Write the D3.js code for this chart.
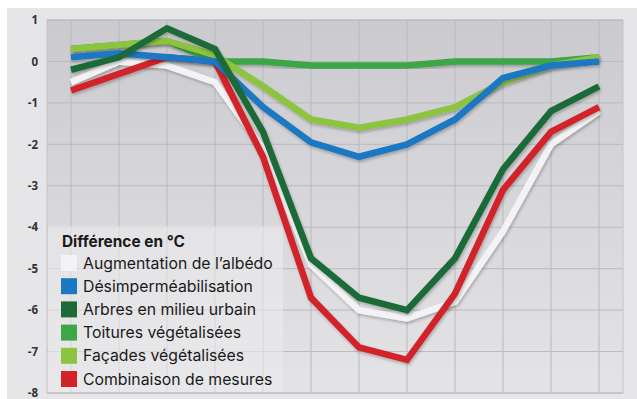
<!DOCTYPE html>
<html>
<head>
<meta charset="utf-8">
<script src="https://cdn.jsdelivr.net/npm/d3@7"></script>
<style>
  body { margin: 0; background: #fff; }
  svg { display: block; }
</style>
</head>
<body>
<svg width="637" height="399"></svg>
<script>
// x positions are just the 12 steps of the series, no labels readable
var steps = d3.range(12);
var yTicks = [1, 0, -1, -2, -3, -4, -5, -6, -7, -8];

var albedo      = [-0.5, 0.0, -0.1, -0.5, -2.1, -4.9, -6.0, -6.2, -5.8, -4.1, -2.0, -1.2];
var desimper    = [0.1, 0.2, 0.1, 0.0, -1.1, -1.95, -2.3, -2.0, -1.4, -0.4, -0.1, 0.0];
var arbres      = [-0.2, 0.1, 0.8, 0.3, -1.7, -4.75, -5.7, -6.0, -4.75, -2.6, -1.2, -0.6];
var toitures    = [0.3, 0.4, 0.5, 0.0, 0.0, -0.1, -0.1, -0.1, 0.0, 0.0, 0.0, 0.1];
var facades     = [0.3, 0.4, 0.5, 0.15, -0.6, -1.4, -1.6, -1.4, -1.1, -0.5, -0.1, 0.1];
var combinaison = [-0.7, -0.3, 0.1, 0.0, -2.3, -5.7, -6.9, -7.2, -5.6, -3.1, -1.7, -1.1];

var legendTitle = "Différence en °C";
var series = [
    {name: "Augmentation de l’albédo", values: albedo, color: "#f3f3f5"},
    {name: "Désimperméabilisation", values: desimper, color: "#1b78c2"},
    {name: "Arbres en milieu urbain", values: arbres, color: "#1d6a38"},
    {name: "Toitures végétalisées", values: toitures, color: "#3da647"},
    {name: "Façades végétalisées", values: facades, color: "#8cc43f"},
    {name: "Combinaison de mesures", values: combinaison, color: "#d2232a"}
];
// drawing order, back to front
var drawOrder = [0, 5, 3, 4, 1, 2];

var svg = d3.select("svg"),
    width = +svg.attr("width"),
    height = +svg.attr("height");

var plot = {left: 47, right: 623, top: 20, bottom: 393};

var defs = svg.append("defs");
var grad = defs.append("linearGradient")
    .attr("id", "bg")
    .attr("x1", 0).attr("y1", 0).attr("x2", 0).attr("y2", 1);
grad.append("stop").attr("offset", "0%").attr("stop-color", "#cbcbcf");
grad.append("stop").attr("offset", "100%").attr("stop-color", "#e4e4e7");

var shadow = defs.append("filter")
    .attr("id", "shadow")
    .attr("x", "-10%").attr("y", "-10%")
    .attr("width", "120%").attr("height", "120%");
shadow.append("feDropShadow")
    .attr("dx", 1).attr("dy", 2)
    .attr("stdDeviation", 1.5)
    .attr("flood-color", "#000")
    .attr("flood-opacity", 0.25);

// outer frame
svg.append("rect")
    .attr("x", 7).attr("y", 8)
    .attr("width", width - 7).attr("height", height - 8)
    .attr("fill", "#e6e6e8");

svg.append("rect")
    .attr("x", plot.left).attr("y", plot.top)
    .attr("width", plot.right - plot.left)
    .attr("height", plot.bottom - plot.top)
    .attr("fill", "url(#bg)")
    .attr("stroke", "#c4c4c8");

var x = d3.scalePoint()
    .domain(steps)
    .range([plot.left, plot.right])
    .padding(0.5);

var y = d3.scaleLinear()
    .domain([-8, 1])
    .range([plot.bottom, plot.top]);

// grid
svg.append("g")
    .selectAll("line")
    .data(steps)
    .enter()
        .append("line")
        .attr("x1", function(d) { return x(d); })
        .attr("x2", function(d) { return x(d); })
        .attr("y1", plot.top)
        .attr("y2", plot.bottom)
        .attr("stroke", "#b9b9be")
        .attr("stroke-width", 1);

svg.append("g")
    .selectAll("line")
    .data(yTicks)
    .enter()
        .append("line")
        .attr("x1", plot.left)
        .attr("x2", plot.right)
        .attr("y1", function(d) { return y(d); })
        .attr("y2", function(d) { return y(d); })
        .attr("stroke", "#b9b9be")
        .attr("stroke-width", 1);

// y labels
var yAxis = svg.append("g")
    .attr("transform", "translate(38,0)")
    .call(d3.axisLeft(y).tickValues(yTicks).tickSize(0).tickPadding(0)
        .tickFormat(function(d) { return d3.format("d")(d).replace("−", "-"); }));
yAxis.select(".domain").remove();
yAxis.selectAll("text")
    .attr("font-family", "'Open Sans', sans-serif")
    .attr("font-weight", "bold")
    .attr("font-size", 11.5)
    .attr("fill", "#333");

// lines
var line = d3.line()
    .x(function(d, i) { return x(steps[i]); })
    .y(function(d) { return y(d); });

svg.append("g")
    .attr("class", "lines")
    .selectAll("path")
    .data(drawOrder.map(function(i) { return series[i]; }))
    .enter()
        .append("path")
        .attr("d", function(d) { return line(d.values); })
        .attr("fill", "none")
        .attr("stroke", function(d) { return d.color; })
        .attr("stroke-width", 6.5)
        .attr("stroke-linejoin", "miter")
        .attr("filter", "url(#shadow)");

// legend
var legend = svg.append("g").attr("class", "legend");

legend.append("rect")
    .attr("x", plot.left + 1).attr("y", 226)
    .attr("width", 235).attr("height", plot.bottom - 227)
    .attr("fill", "#ebebed")
    .attr("opacity", 0.6);

legend.append("text")
    .attr("x", 62).attr("y", 242)
    .attr("dy", "0.35em")
    .attr("font-family", "Inter, sans-serif")
    .attr("font-weight", "bold")
    .attr("font-size", 15.4)
    .attr("fill", "#1a1a1a")
    .text(legendTitle);

var item = legend.selectAll(".item")
    .data(series)
    .enter()
        .append("g")
        .attr("class", "item")
        .attr("transform", function(d, i) { return "translate(61," + (263 + i * 23.2) + ")"; });

item.append("rect")
    .attr("x", 0).attr("y", -8)
    .attr("width", 16).attr("height", 16)
    .attr("fill", function(d) { return d.color; });

item.append("text")
    .attr("x", 22)
    .attr("dy", "0.35em")
    .attr("font-family", "Inter, sans-serif")
    .attr("font-size", 15.8)
    .attr("fill", "#1a1a1a")
    .text(function(d) { return d.name; });
</script>
</body>
</html>
